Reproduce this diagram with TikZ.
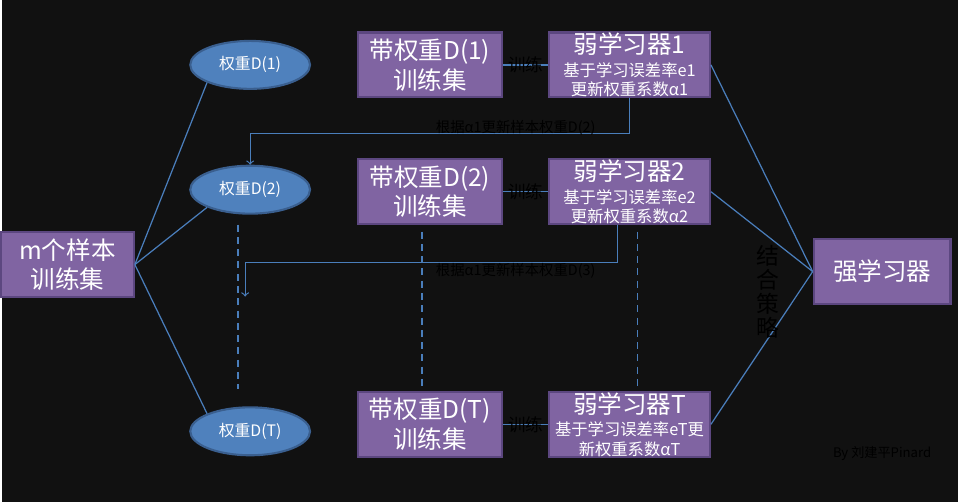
\documentclass[tikz,border=0pt]{standalone}
\usepackage{fontspec}
\setmainfont{Noto Sans CJK SC}
\usepackage{tikz}
\definecolor{bg}{HTML}{111111}
\definecolor{boxfill}{HTML}{8064A2}
\definecolor{boxline}{HTML}{5C4780}
\definecolor{ellfill}{HTML}{4F81BD}
\definecolor{ellline}{HTML}{3A5F8F}
\definecolor{linkblue}{HTML}{4A7EBB}
\tikzstyle{purple_box}=[rectangle, draw=boxline, fill=boxfill, line width=1.2pt, text=white, align=center, inner sep=0pt, minimum height=1.3cm, font=\fontsize{14}{17}\selectfont]
\tikzstyle{weak_box}=[purple_box, minimum width=3.22cm, font=\fontsize{14}{13}\selectfont]
\tikzstyle{weight_ellipse}=[ellipse, draw=ellline, fill=ellfill, line width=1.2pt, text=white, inner sep=0pt, minimum width=2.4cm, minimum height=0.96cm, font=\fontsize{9}{11}\selectfont]
\tikzstyle{link}=[draw=linkblue, line width=0.7pt]
\tikzstyle{dashed_link}=[draw=linkblue, line width=0.8pt, dash pattern=on 4pt off 3pt]
\tikzstyle{dark_label}=[text=black, inner sep=0pt, font=\fontsize{8.2}{10}\selectfont]
\newcommand{\subline}{\fontsize{9.3}{9.6}\selectfont}
\usetikzlibrary{shapes.geometric}

\begin{document}
\begin{tikzpicture}[x=0.02cm, y=-0.02cm]
    \fill [bg] (0,0) rectangle (958,503);

    \node (M) at (66, 265) [purple_box, minimum width=2.66cm] {m个样本\\训练集};

    \node (D1) at (249, 65) [weight_ellipse] {权重D(1)};
    \node (D2) at (249, 190) [weight_ellipse] {权重D(2)};
    \node (DT) at (249, 432) [weight_ellipse] {权重D(T)};

    \node (T1) at (429, 65) [purple_box, minimum width=2.88cm] {带权重D(1)\\训练集};
    \node (T2) at (429, 192) [purple_box, minimum width=2.88cm] {带权重D(2)\\训练集};
    \node (TT) at (429, 425) [purple_box, minimum width=2.88cm] {带权重D(T)\\训练集};

    \node (W1) at (629, 65) [weak_box] {弱学习器1\\\subline 基于学习误差率e1\\[-2pt]\subline 更新权重系数α1};
    \node (W2) at (629, 192) [weak_box] {弱学习器2\\\subline 基于学习误差率e2\\[-2pt]\subline 更新权重系数α2};
    \node (WT) at (629, 425) [weak_box] {弱学习器T\\\subline 基于学习误差率eT更\\[-2pt]\subline 新权重系数αT};

    \node (S) at (882, 272) [purple_box, minimum width=2.74cm] {强学习器};

    \coordinate (A3) at (244, 297);
    \coordinate (V1a) at (237, 225);
    \coordinate (V1b) at (237, 390);
    \coordinate (V2a) at (421, 232);
    \coordinate (V2b) at (421, 390);
    \coordinate (V3a) at (637, 232);
    \coordinate (V3b) at (637, 390);

    \draw (M.east) -- (D1.south west) [link];
    \draw (M.east) -- (D2.south west) [link];
    \draw (M.east) -- (DT.north west) [link];

    \draw (T1) -- (W1) [link];
    \draw (T2) -- (W2) [link];
    \draw (TT) -- (WT) [link];

    \draw (W1.east) -- (S.west) [link];
    \draw (W2.east) -- (S.west) [link];
    \draw (WT.east) -- (S.west) [link];

    \draw [link, ->] (W1.south) -- ++(0,35) -| (D2.north);
    \draw [link, ->] ([xshift=-0.24cm]W2.south) -- ++(0,37) -| (A3);

    \draw (V1a) -- (V1b) [dashed_link];
    \draw (V2a) -- (V2b) [dashed_link];
    \draw (V3a) -- (V3b) [dashed_link];

    \node (L1) at (515, 128) [dark_label] {根据α1更新样本权重D(2)};
    \node (L2) at (515, 271) [dark_label] {根据α1更新样本权重D(3)};
    \node (R1) at (525, 65) [dark_label, font=\fontsize{10}{12}\selectfont] {训练};
    \node (R2) at (525, 192) [dark_label, font=\fontsize{10}{12}\selectfont] {训练};
    \node (RT) at (525, 425) [dark_label, font=\fontsize{10}{12}\selectfont] {训练};
    \node (C) at (768, 292) [dark_label, align=center, font=\fontsize{13}{13.6}\selectfont] {结\\合\\策\\略};
    \node (B) at (882, 454) [dark_label, font=\fontsize{7.5}{9}\selectfont] {By 刘建平Pinard};
\end{tikzpicture}
\end{document}
